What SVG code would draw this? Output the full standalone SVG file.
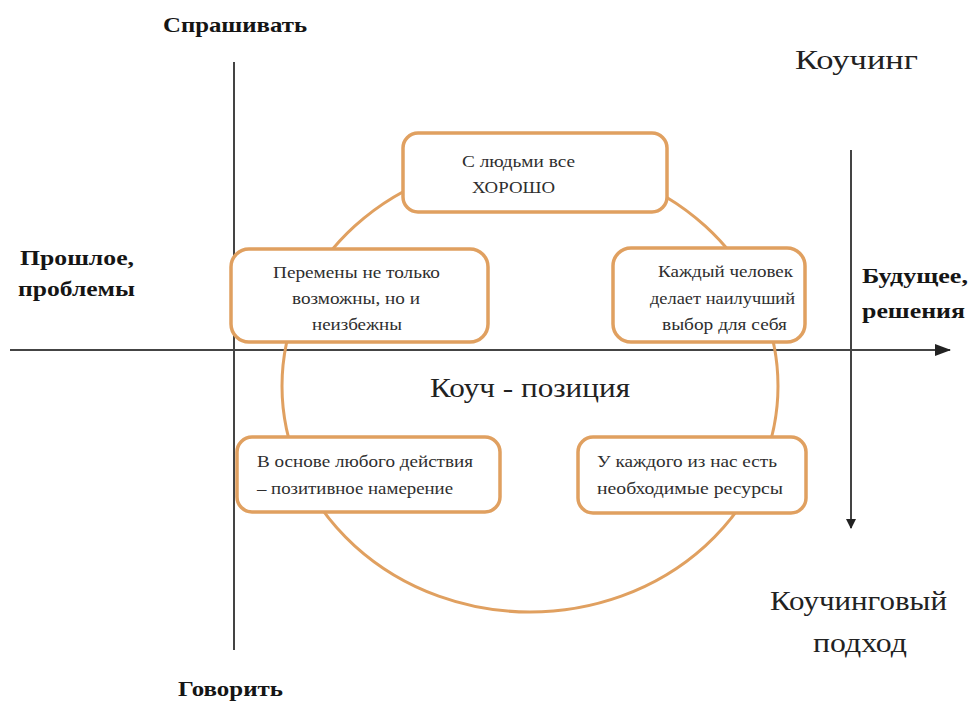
<svg xmlns="http://www.w3.org/2000/svg" width="971" height="702" viewBox="0 0 971 702">
<defs>
<marker id="ah" markerWidth="10" markerHeight="10" refX="9" refY="5" orient="auto" markerUnits="userSpaceOnUse"><path d="M0,0 L10,5 L0,10 Z" fill="#222"/></marker>
<marker id="ah2" markerWidth="16" markerHeight="12" refX="15" refY="6" orient="auto" markerUnits="userSpaceOnUse"><path d="M0,0 L16,6 L0,12 Z" fill="#222"/></marker>
</defs>
<style>
.box{fill:#fff;stroke:#E0A060;stroke-width:3.5}
.t{font-family:"Liberation Serif","Times New Roman",serif;fill:#2e2e2e}
.bt{font-size:17px}
.lab{font-size:21px;font-weight:bold;fill:#151515}
.big{font-size:28px;fill:#222}
.ln{stroke:#444;stroke-width:2;fill:none}
</style>
<rect width="971" height="702" fill="#fff"/>
<g id="connectors">
<line class="ln" x1="234" y1="62" x2="234" y2="650"/>
<line class="ln" x1="10" y1="350" x2="950" y2="350" marker-end="url(#ah2)"/>
<line class="ln" x1="851" y1="150" x2="851" y2="528" marker-end="url(#ah)"/>
</g>
<g id="circle"><ellipse cx="530" cy="386" rx="248" ry="226" fill="none" stroke="#E0A060" stroke-width="3"/></g>
<g id="n-top"><rect class="box" x="403" y="133" width="264" height="79" rx="15"/>
<text class="t bt" x="462" y="167" textLength="113" lengthAdjust="spacingAndGlyphs">С людьми все</text>
<text class="t bt" x="472" y="193" textLength="83" lengthAdjust="spacingAndGlyphs">ХОРОШО</text></g>
<g id="n-ul"><rect class="box" x="231" y="249" width="257" height="93" rx="18"/>
<text class="t bt" x="273" y="278" textLength="167" lengthAdjust="spacingAndGlyphs">Перемены не только</text>
<text class="t bt" x="292" y="304" textLength="128" lengthAdjust="spacingAndGlyphs">возможны, но и</text>
<text class="t bt" x="312" y="330" textLength="90" lengthAdjust="spacingAndGlyphs">неизбежны</text></g>
<g id="n-ur"><rect class="box" x="613" y="248" width="192" height="94" rx="18"/>
<text class="t bt" x="658" y="277" textLength="135" lengthAdjust="spacingAndGlyphs">Каждый человек</text>
<text class="t bt" x="650" y="304" textLength="145" lengthAdjust="spacingAndGlyphs">делает наилучший</text>
<text class="t bt" x="662" y="330" textLength="125" lengthAdjust="spacingAndGlyphs">выбор для себя</text></g>
<g id="n-ll"><rect class="box" x="237" y="437" width="263" height="75" rx="15"/>
<text class="t bt" x="257" y="467" textLength="216" lengthAdjust="spacingAndGlyphs">В основе любого действия</text>
<text class="t bt" x="257" y="494" textLength="196" lengthAdjust="spacingAndGlyphs">– позитивное  намерение</text></g>
<g id="n-lr"><rect class="box" x="578" y="437" width="228" height="76" rx="15"/>
<text class="t bt" x="597" y="467" textLength="180" lengthAdjust="spacingAndGlyphs">У каждого из нас есть</text>
<text class="t bt" x="597" y="494" textLength="186" lengthAdjust="spacingAndGlyphs">необходимые ресурсы</text></g>
<g id="labels">
<text class="t lab" x="163" y="32" textLength="144" lengthAdjust="spacingAndGlyphs">Спрашивать</text>
<text class="t lab" x="178" y="696" textLength="105" lengthAdjust="spacingAndGlyphs">Говорить</text>
<text class="t lab" x="20" y="265" textLength="114" lengthAdjust="spacingAndGlyphs">Прошлое,</text>
<text class="t lab" x="18" y="296" textLength="117" lengthAdjust="spacingAndGlyphs">проблемы</text>
<text class="t lab" x="862" y="283" textLength="106" lengthAdjust="spacingAndGlyphs">Будущее,</text>
<text class="t lab" x="862" y="318" textLength="103" lengthAdjust="spacingAndGlyphs">решения</text>
<text class="t big" x="795" y="69" textLength="123" lengthAdjust="spacingAndGlyphs">Коучинг</text>
<text class="t big" x="770" y="610" textLength="177" lengthAdjust="spacingAndGlyphs">Коучинговый</text>
<text class="t big" x="813" y="652" textLength="94" lengthAdjust="spacingAndGlyphs">подход</text>
<text class="t big" x="430" y="397" textLength="200" lengthAdjust="spacingAndGlyphs">Коуч - позиция</text>
</g>
</svg>
